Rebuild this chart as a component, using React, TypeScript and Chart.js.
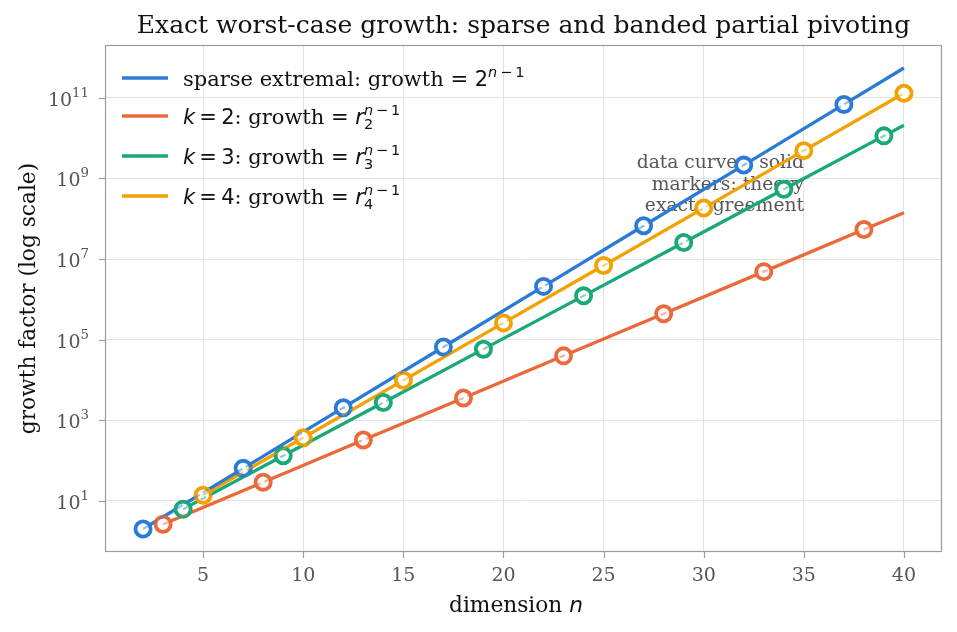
import React, { useEffect, useRef } from "react";
import { Chart, registerables, Plugin } from "chart.js";

Chart.register(...registerables);

// growth factor vs dimension n
const sparseN = [2, 7, 12, 17, 22, 27, 32, 37, 40];
const sparseGrowth = [2, 64, 2048, 65536, 2097152, 67108864, 2147483648, 68719476736, 549755813888];
const k2N = [3, 8, 13, 18, 23, 28, 33, 38, 40];
const k2Growth = [2.618, 29.03, 322, 3571, 39603, 439204, 4870847, 54018521, 141422324];
const k3N = [4, 9, 14, 19, 24, 29, 34, 39, 40];
const k3Growth = [6.222, 130.96, 2756.9, 58033, 1221800, 25717000, 541390000, 11397000000, 20962000000];
const k4N = [5, 10, 15, 20, 25, 30, 35, 40];
const k4Growth = [13.805, 367.4, 9774, 260130, 6922000, 184190000, 4900000000, 130410000000];

const markerStride = 5;
const xTicks = [5, 10, 15, 20, 25, 30, 35, 40];
const yTicks = [1e1, 1e3, 1e5, 1e7, 1e9, 1e11];
const yTickExps = ["1", "3", "5", "7", "9", "11"];

const SERIF = "'DejaVu Serif'";
const SANS = "'DejaVu Sans'";

const colors = {
  sparse: "#2b7bd6",
  k2: "#ea6a3b",
  k3: "#1ba877",
  k4: "#f2a202",
};

type Run = { t: string; f: string; dy?: number; dx?: number; back?: boolean };

function drawRuns(ctx: CanvasRenderingContext2D, x: number, y: number, runs: Run[]) {
  let lastStart = x;
  let far = x;
  for (const r of runs) {
    const start = r.back ? lastStart : far;
    ctx.font = r.f;
    const w = ctx.measureText(r.t).width;
    ctx.fillText(r.t, start + (r.dx || 0), y + (r.dy || 0));
    lastStart = start;
    far = Math.max(far, start + (r.dx || 0) + w);
  }
  return far - x;
}

function measureRuns(ctx: CanvasRenderingContext2D, runs: Run[]) {
  let lastStart = 0;
  let far = 0;
  for (const r of runs) {
    const start = r.back ? lastStart : far;
    ctx.font = r.f;
    const w = ctx.measureText(r.t).width;
    lastStart = start;
    far = Math.max(far, start + (r.dx || 0) + w);
  }
  return far;
}

const pts = (ns: number[], gs: number[]) => ns.map((n, i) => ({ x: n, y: gs[i] }));
const markerPts = (ns: number[], gs: number[]) =>
  pts(ns, gs).filter((p) => (p.x - ns[0]) % markerStride === 0);

const kRuns = (k: string): Run[] => [
  { t: "k", f: `italic 21px ${SANS}` },
  { t: "\u2009=\u2009" + k, f: `21px ${SANS}` },
  { t: ": growth ", f: `21px ${SERIF}` },
  { t: "= ", f: `21px ${SANS}` },
  { t: "r", f: `italic 21px ${SANS}` },
  { t: k, f: `14.5px ${SANS}`, dy: 5 },
  { t: "n", f: `italic 14.5px ${SANS}`, dy: -9, back: true },
  { t: "\u2009\u2212\u20091", f: `14.5px ${SANS}`, dy: -9 },
];

const legendItems: { color: string; y: number; runs: Run[] }[] = [
  {
    color: colors.sparse,
    y: 78,
    runs: [
      { t: "sparse extremal: growth ", f: `21px ${SERIF}` },
      { t: "= 2", f: `21px ${SANS}` },
      { t: "n", f: `italic 14.5px ${SANS}`, dy: -9 },
      { t: "\u2009\u2212\u20091", f: `14.5px ${SANS}`, dy: -9 },
    ],
  },
  { color: colors.k2, y: 116, runs: kRuns("2") },
  { color: colors.k3, y: 156, runs: kRuns("3") },
  { color: colors.k4, y: 196, runs: kRuns("4") },
];

export default function App() {
  const canvasRef = useRef<HTMLCanvasElement>(null);

  useEffect(() => {
    document.body.style.margin = "0";
    const ctx = canvasRef.current?.getContext("2d");
    if (!ctx) return;

    const series = [
      { key: "sparse", ns: sparseN, gs: sparseGrowth, color: colors.sparse },
      { key: "k2", ns: k2N, gs: k2Growth, color: colors.k2 },
      { key: "k3", ns: k3N, gs: k3Growth, color: colors.k3 },
      { key: "k4", ns: k4N, gs: k4Growth, color: colors.k4 },
    ];

    const datasets: any[] = [];
    series.forEach((s) => {
      datasets.push({
        label: s.key + " data",
        data: pts(s.ns, s.gs),
        borderColor: s.color,
        borderWidth: 3.3,
        pointRadius: 0,
        order: 3,
      });
      datasets.push({
        label: s.key + " markers",
        data: markerPts(s.ns, s.gs),
        showLine: false,
        pointRadius: 7.6,
        pointBorderWidth: 3.8,
        pointBackgroundColor: "#ffffff",
        pointBorderColor: s.color,
        order: 2,
      });
      datasets.push({
        label: s.key + " theory",
        data: pts(s.ns, s.gs),
        borderColor: s.color + "80",
        borderWidth: 2.2,
        borderDash: [6, 4],
        pointRadius: 0,
        order: 1,
      });
    });

    const decor: Plugin<"line"> = {
      id: "decor",
      beforeDatasetsDraw(chart) {
        const c = chart.ctx;
        c.save();
        c.fillStyle = "rgba(68,68,68,0.9)";
        c.font = `18.7px ${SERIF}`;
        c.textAlign = "right";
        c.textBaseline = "alphabetic";
        ["data curves: solid", "markers: theory", "exact agreement"].forEach((t, i) =>
          c.fillText(t, 804, 168 + i * 21.5)
        );
        c.restore();
      },
      afterDraw(chart) {
        const c = chart.ctx;
        const { left, right, top, bottom } = chart.chartArea;
        const xs = chart.scales.x;
        const ys = chart.scales.y;
        c.save();
        // spines
        c.strokeStyle = "#9c9c96";
        c.lineWidth = 1.2;
        c.strokeRect(left + 0.5, top + 0.5, right - left - 1, bottom - top - 1);
        // tick marks + labels
        c.fillStyle = "#555555";
        c.beginPath();
        xTicks.forEach((v) => {
          const px = Math.round(xs.getPixelForValue(v)) + 0.5;
          c.moveTo(px, bottom);
          c.lineTo(px, bottom + 6);
        });
        yTicks.forEach((v) => {
          const py = Math.round(ys.getPixelForValue(v)) + 0.5;
          c.moveTo(left, py);
          c.lineTo(left - 6, py);
        });
        c.stroke();
        c.font = `19px ${SERIF}`;
        c.textAlign = "center";
        c.textBaseline = "middle";
        xTicks.forEach((v) => c.fillText(String(v), xs.getPixelForValue(v), 576));
        c.textBaseline = "alphabetic";
        c.textAlign = "left";
        yTicks.forEach((v, i) => {
          const py = ys.getPixelForValue(v);
          const runs: Run[] = [
            { t: "10", f: `19px ${SERIF}` },
            { t: yTickExps[i], f: `13.3px ${SERIF}`, dy: -9 },
          ];
          const w = measureRuns(c, runs);
          drawRuns(c, 89 - w, py + 8, runs);
        });
        // axis titles
        c.fillStyle = "#111111";
        const xl: Run[] = [
          { t: "dimension ", f: `21.7px ${SERIF}` },
          { t: "n", f: `italic 21.7px ${SANS}` },
        ];
        const xw = measureRuns(c, xl);
        drawRuns(c, 516 - xw / 2, 612, xl);
        c.save();
        c.translate(35, (top + bottom) / 2);
        c.rotate(-Math.PI / 2);
        c.font = `21.7px ${SERIF}`;
        c.textAlign = "center";
        c.fillText("growth factor (log scale)", 0, 0);
        c.restore();
        // title
        c.font = `25px ${SERIF}`;
        c.textAlign = "center";
        c.fillText("Exact worst-case growth: sparse and banded partial pivoting", (left + right) / 2, 33);
        // legend
        c.textAlign = "left";
        legendItems.forEach((it) => {
          c.strokeStyle = it.color;
          c.lineWidth = 3.5;
          c.beginPath();
          c.moveTo(122, it.y);
          c.lineTo(168, it.y);
          c.stroke();
          c.fillStyle = "#111111";
          drawRuns(c, 183, it.y + 7.5, it.runs);
        });
        c.restore();
      },
    };

    const chart = new Chart(ctx, {
      type: "line",
      data: { datasets },
      options: {
        animation: false,
        responsive: true,
        maintainAspectRatio: false,
        layout: { padding: { left: 0, top: 45, right: 15, bottom: 0 } },
        plugins: { legend: { display: false }, tooltip: { enabled: false }, title: { display: false } },
        scales: {
          x: {
            type: "linear",
            min: 0.1,
            max: 41.9,
            afterBuildTicks: (s: any) => {
              s.ticks = xTicks.map((v) => ({ value: v }));
            },
            afterFit: (s: any) => {
              s.height = 80;
            },
            ticks: { display: false },
            grid: { color: "#dcdcd6", lineWidth: 0.8, drawTicks: false },
            border: { display: false },
          },
          y: {
            type: "logarithmic",
            min: 0.537,
            max: 2.05e12,
            afterBuildTicks: (s: any) => {
              s.ticks = yTicks.map((v) => ({ value: v }));
            },
            afterFit: (s: any) => {
              s.width = 105;
            },
            ticks: { display: false },
            grid: { color: "#dcdcd6", lineWidth: 0.8, drawTicks: false },
            border: { display: false },
          },
        },
      },
      plugins: [decor],
    });

    return () => chart.destroy();
  }, []);

  return (
    <div style={{ width: 957, height: 632, position: "relative", background: "#ffffff" }}>
      <canvas ref={canvasRef} />
    </div>
  );
}
